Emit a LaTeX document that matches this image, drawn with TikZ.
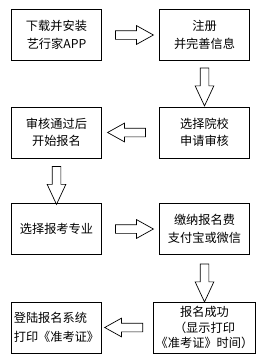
\documentclass[tikz,border=0pt]{standalone}
\usepackage{fontspec}
\setmainfont{Noto Sans CJK SC}
\usetikzlibrary{shapes.arrows,calc}

\begin{document}
\begin{tikzpicture}[x=1pt, y=1pt,
  box/.style={draw, line width=0.9pt, align=center,
              minimum width=90pt, minimum height=51pt, inner sep=2pt,
              font=\fontsize{12.2}{17.5}\selectfont},
  blk/.style={draw, line width=0.7pt, single arrow, inner sep=4pt,
              single arrow head extend=5pt, minimum height=38pt},
  harr/.style={blk, single arrow tip angle=58},
  varr/.style={blk, single arrow tip angle=50, shape border rotate=270}
]
\useasboundingbox (0,0) rectangle (264,-362);

% Left column
\node[box] at (56.5, -35)    (app)   {下载并安装\\艺行家APP};
\node[box] at (56.5, -132.5) (pass)  {审核通过后\\开始报名};
\node[box] at (56.5, -229)   (major) {选择报考专业};
\node[box, align=left, font=\fontsize{12.2}{18.5}\selectfont]
      at (56.5, -327.5) (login) {登陆报名系统\\打印《准考证》};

% Right column
\node[box] at (204.5, -35)    (reg)    {注册\\并完善信息};
\node[box] at (204.5, -132.5) (school) {选择院校\\申请审核};
\node[box] at (204.5, -229)   (pay)    {缴纳报名费\\支付宝或微信};
\node[box, font=\fontsize{12.2}{15.5}\selectfont]
      at (204.5, -327.5) (done) {报名成功\\（显示打印\\《准考证》时间）};

% Block arrows
\node[harr] at ($(app.east)!0.5!(reg.west)$) (a1) {};
\node[varr] at ($(reg.south)!0.5!(school.north)+(0,1.5)$) (a2) {};
\node[harr, shape border rotate=180] at ($(school.west)!0.5!(pass.east)$) (a3) {};
\node[varr] at ($(pass.south)!0.5!(major.north)$) (a4) {};
\node[harr] at ($(major.east)!0.5!(pay.west)$) (a5) {};
\node[varr] at ($(pay.south)!0.5!(done.north)$) (a6) {};
\node[harr, shape border rotate=180] at ($(done.west)!0.5!(login.east)$) (a7) {};

\end{tikzpicture}
\end{document}
